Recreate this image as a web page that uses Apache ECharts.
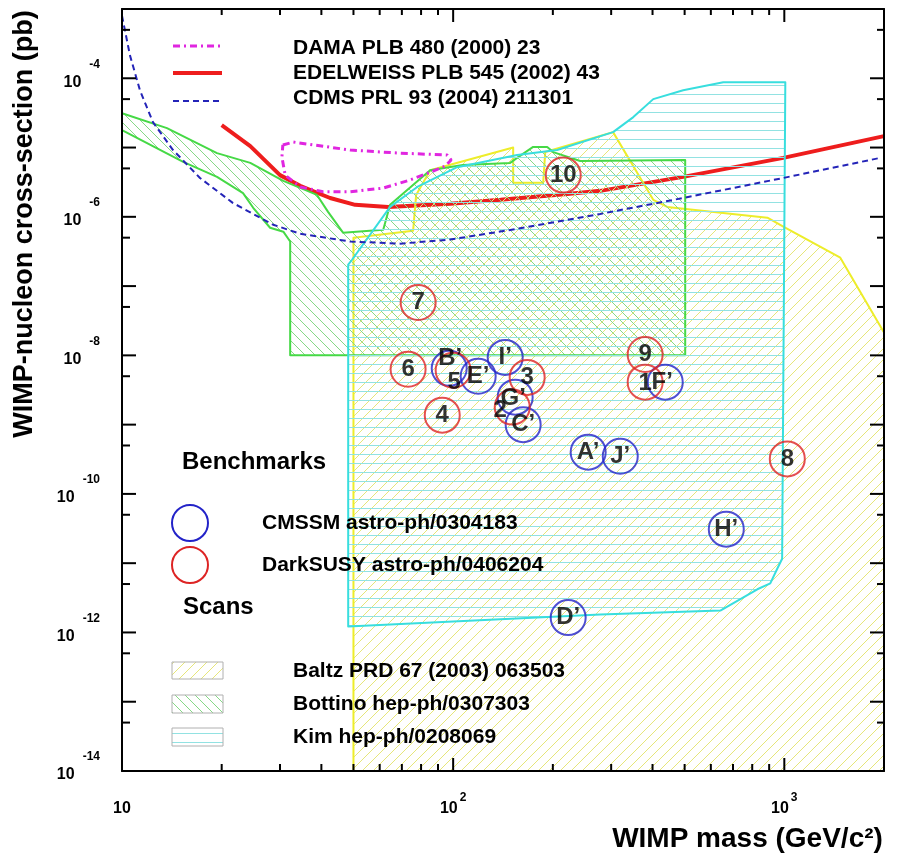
<!DOCTYPE html>
<html>
<head>
<meta charset="utf-8">
<script src="https://cdn.jsdelivr.net/npm/echarts@6/dist/echarts.min.js"></script>
<style>
  html, body { margin: 0; padding: 0; background: #fff; }
  #chart { width: 897px; height: 858px; }
</style>
</head>
<body>
<div id="chart"></div>
<script>
// ---- Experimental limits: [WIMP mass (GeV/c^2), cross-section (pb)] ----
const damaContour = [
  [30.6, 1.09e-5], [32.9, 1.2e-5], [48.9, 9.2e-6], [69.2, 8.3e-6], [95.9, 7.8e-6],
  [98.6, 6.6e-6], [94.6, 5.4e-6], [85.2, 4.4e-6], [74.1, 3.4e-6], [61.5, 2.6e-6],
  [48.9, 2.3e-6], [40.5, 2.3e-6], [34.5, 2.7e-6], [31.1, 4.0e-6], [30.4, 7.3e-6],
  [30.6, 1.09e-5]
];
const edelweissLimit = [
  [20, 2.1e-5], [24.4, 1.05e-5], [30, 4.0e-6], [34.5, 2.8e-6], [42.5, 1.87e-6],
  [50.6, 1.49e-6], [63.6, 1.39e-6], [98, 1.54e-6], [139, 1.76e-6], [221, 2.14e-6],
  [278, 2.37e-6], [495, 3.77e-6], [993, 7.1e-6], [2000, 1.46e-5]
];
const cdmsLimit = [
  [10, 8.0e-4], [10.57, 2.14e-4], [11.33, 6.7e-5], [12.4, 2.33e-5], [14.26, 9.2e-6],
  [17.2, 3.64e-6], [21.6, 1.59e-6], [28.6, 7.7e-7], [34.5, 5.7e-7], [48.8, 4.4e-7],
  [69.2, 4.1e-7], [98, 4.7e-7], [156, 6.7e-7], [278, 1.1e-6], [495, 1.87e-6],
  [993, 3.64e-6], [1950, 7.1e-6]
];

// ---- Theoretical scan regions (closed outlines) ----
const baltzScan = [
  [50, 1e-14], [50, 5.0e-7], [75.7, 6.3e-7], [77.3, 2.07e-6], [85.2, 4.7e-6],
  [151.8, 1.0e-5], [151.8, 3.1e-6], [187, 3.1e-6], [189.7, 8.6e-6], [304, 1.67e-5],
  [402, 1.76e-6], [443, 1.39e-6], [889, 9.7e-7], [993, 7.2e-7], [1476, 2.57e-7],
  [2000, 2.14e-8], [2000, 1e-14]
];
const bottinoScan = [
  [10, 3.13e-5], [13.67, 1.91e-5], [19.36, 8.3e-6], [24.4, 6.0e-6], [30.7, 3.3e-6],
  [38.8, 2.07e-6], [41.9, 1.18e-6], [46.5, 5.9e-7], [61.5, 6.5e-7], [64.5, 1.49e-6],
  [85.2, 4.7e-6], [107, 5.6e-6], [148.6, 6.0e-6], [156, 7.1e-6], [174.4, 1.02e-5],
  [192.3, 1.02e-5], [200.5, 8.6e-6], [241.9, 6.4e-6], [502, 6.6e-6], [502, 1e-8],
  [32.2, 1e-8], [32.2, 4.4e-7], [30.7, 6.1e-7], [28, 6.95e-7], [24.9, 1.35e-6],
  [23.2, 2.2e-6], [19.36, 3.77e-6], [15.3, 6.2e-6], [10, 1.79e-5]
];
const kimScan = [
  [48.2, 1.22e-12], [48.2, 2.04e-7], [49.5, 2.4e-7], [64.5, 1.39e-6], [77.9, 2.7e-6],
  [102.8, 5.2e-6], [156, 7.8e-6], [206, 9.2e-6], [304, 1.67e-5], [350, 2.75e-5],
  [402, 5.0e-5], [495, 6.7e-5], [654, 8.75e-5], [1007, 8.75e-5], [985, 1.16e-11],
  [952, 8.3e-12], [907, 5.1e-12], [829, 4.2e-12], [641, 2.07e-12], [278, 1.82e-12]
];

// ---- Benchmark models: [label, mass, cross-section] ----
const cmssmPoints = [
  ['A’', 255.7, 4.0e-10], ['B’', 97.3, 6.5e-9], ['C’', 162.7, 1.0e-9],
  ['D’', 222.5, 1.64e-12], ['E’', 119, 5.0e-9], ['F’', 437, 4.1e-9],
  ['G’', 153.9, 2.49e-9], ['H’', 668, 3.1e-11], ['I’', 143.6, 9.35e-9],
  ['J’', 319.6, 3.5e-10]
];
const darksusyPoints = [
  ['1', 380, 4.1e-9], ['2', 150.8, 1.79e-9], ['3', 167.3, 4.8e-9],
  ['4', 92.7, 1.37e-9], ['5', 100, 6.1e-9], ['6', 73.1, 6.3e-9],
  ['7', 78.4, 5.8e-8], ['8', 1021, 3.2e-10], ['9', 380, 1.03e-8],
  ['10', 215, 4.0e-6]
];

// ---- Axis ticks and labels ----
const xMajorTicks = [100, 1000];
const xMinorTicks = [20, 30, 40, 50, 60, 70, 80, 90, 200, 300, 400, 500, 600, 700, 800, 900];
const yMajorTicks = [1e-13, 1e-12, 1e-11, 1e-10, 1e-9, 1e-8, 1e-7, 1e-6, 1e-5, 1e-4];
const yMinorTicks = [5e-14, 5e-13, 5e-12, 5e-11, 5e-10, 5e-9, 5e-8, 5e-7, 5e-6, 5e-5, 5e-4];
const xLabelValues = [10, 100, 1000];
const yLabelValues = [1e-14, 1e-12, 1e-10, 1e-8, 1e-6, 1e-4];

const X_MIN = 10, X_MAX = 2000, Y_MIN = 1e-14, Y_MAX = 1e-3;
const FONT = '"Liberation Sans", Arial, Helvetica, sans-serif';

// label nudges where benchmark markers overlap
const labelNudge = { 'B’': [1, -10], '5': [1, 12], '2': [-12, 3], 'G’': [-2, 1], '1': [0, 1], 'F’': [-3, 0] };

// hatch pattern tiles
function hatch(kind, color, size) {
  const c = document.createElement('canvas');
  c.width = size; c.height = size;
  const g = c.getContext('2d');
  g.strokeStyle = color;
  g.lineWidth = 1;
  g.beginPath();
  if (kind === 'h') {
    g.moveTo(0, Math.floor(size / 2) + 0.5);
    g.lineTo(size, Math.floor(size / 2) + 0.5);
  } else {
    for (let k = -1; k <= 1; k++) {
      if (kind === '/') {
        g.moveTo(k * size - 1, size + 1);
        g.lineTo(k * size + size + 1, -1);
      } else {
        g.moveTo(k * size - 1, -1);
        g.lineTo(k * size + size + 1, size + 1);
      }
    }
  }
  g.stroke();
  return c;
}
const yellowHatch = { image: hatch('/', '#e6e67a', 11), repeat: 'repeat' };
const greenHatch = { image: hatch('\\', '#86d886', 10), repeat: 'repeat' };
const cyanHatch = { image: hatch('h', '#92e2e2', 9), repeat: 'repeat' };

function regionSeries(name, pts, fill, stroke, z) {
  return {
    type: 'custom', name, coordinateSystem: 'cartesian2d', data: pts, z, silent: true,
    renderItem(params, api) {
      if (params.dataIndex !== 0) return null;
      const points = pts.map(p => api.coord(p));
      return {
        type: 'polygon',
        shape: { points },
        style: { fill, stroke, lineWidth: 2, lineJoin: 'round' }
      };
    }
  };
}

function tickLine(x1, y1, x2, y2) {
  return { type: 'line', shape: { x1, y1, x2, y2 }, style: { stroke: '#000', lineWidth: 2 } };
}

function benchSeries(points, color) {
  return {
    type: 'scatter', data: points.map(p => ({
      value: [p[1], p[2]], name: p[0],
      label: { offset: labelNudge[p[0]] || [0, 0] }
    })),
    symbol: 'circle', symbolSize: 35, z: 20, silent: true,
    itemStyle: { color: 'rgba(0,0,0,0)', borderColor: color, borderWidth: 2 },
    label: {
      show: true, position: 'inside', formatter: '{b}',
      fontFamily: FONT, fontWeight: 'bold', fontSize: 24, color: '#000'
    }
  };
}

function expOf(v) {
  const e = Math.log10(v);
  const r = Math.round(e);
  return Math.abs(e - r) < 1e-6 ? r : null;
}

const axisLineStyle = { show: true, onZero: false, lineStyle: { color: '#000', width: 2 } };

const chart = echarts.init(document.getElementById('chart'), null, { renderer: 'canvas' });

const legendText = (text, x, y, size) => ({
  type: 'text', x, y, z: 30,
  style: { text, fill: '#000', fontFamily: FONT, fontWeight: 'bold', fontSize: size || 21, align: 'left', verticalAlign: 'middle' }
});

chart.setOption({
  animation: false,
  backgroundColor: '#fff',
  grid: { left: 122, right: 13, top: 9, bottom: 85, show: false },
  xAxis: [{
    type: 'log', logBase: 10, min: X_MIN, max: X_MAX, position: 'bottom', z: 10,
    axisLine: axisLineStyle, axisTick: { show: false }, splitLine: { show: false },
    name: 'WIMP mass (GeV/c²)', nameLocation: 'middle', nameGap: 54,
    nameTextStyle: { fontFamily: FONT, fontWeight: 'bold', fontSize: 28, color: '#000', padding: [0, 0, 0, 489] },
    axisLabel: {
      margin: 21, color: '#000', customValues: xLabelValues,
      formatter(v) {
        const r = expOf(v);
        if (r === null) return '';
        return r === 1 ? '{b|10}' : '{b|10}{e|' + r + '}';
      },
      rich: {
        b: { fontFamily: FONT, fontWeight: 'bold', fontSize: 16, lineHeight: 25, verticalAlign: 'bottom', color: '#000' },
        e: { fontFamily: FONT, fontWeight: 'bold', fontSize: 12, lineHeight: 25, verticalAlign: 'top', color: '#000', padding: [0, 0, 0, 2] }
      }
    }
  }, {
    type: 'log', logBase: 10, min: X_MIN, max: X_MAX, position: 'top', z: 10,
    axisLine: axisLineStyle, axisTick: { show: false }, splitLine: { show: false },
    axisLabel: { show: false }
  }],
  yAxis: [{
    type: 'log', logBase: 10, min: Y_MIN, max: Y_MAX, position: 'left', z: 10,
    axisLine: axisLineStyle, axisTick: { show: false }, splitLine: { show: false },
    name: 'WIMP-nucleon cross-section (pb)', nameLocation: 'middle', nameGap: 84, nameRotate: 90,
    nameTextStyle: { fontFamily: FONT, fontWeight: 'bold', fontSize: 27, color: '#000', padding: [0, 0, 0, 332] },
    axisLabel: {
      margin: 22, color: '#000', padding: [0, 0, 8, 0], customValues: yLabelValues,
      formatter(v) {
        const r = expOf(v);
        if (r === null || Math.abs(r) % 2 === 1) return '';
        return '{b|10}{e|' + r + '}';
      },
      rich: {
        b: { fontFamily: FONT, fontWeight: 'bold', fontSize: 16, lineHeight: 32, verticalAlign: 'bottom', color: '#000' },
        e: { fontFamily: FONT, fontWeight: 'bold', fontSize: 12, lineHeight: 32, verticalAlign: 'top', color: '#000', padding: [0, 0, 0, 8] }
      }
    }
  }, {
    type: 'log', logBase: 10, min: Y_MIN, max: Y_MAX, position: 'right', z: 10,
    axisLine: axisLineStyle, axisTick: { show: false }, splitLine: { show: false },
    axisLabel: { show: false }
  }],
  series: [
    // scan regions
    regionSeries('Baltz', baltzScan, yellowHatch, '#eded2a', 3),
    regionSeries('Bottino', bottinoScan, greenHatch, '#46d946', 4),
    regionSeries('Kim', kimScan, cyanHatch, '#38dede', 5),
    // limits
    {
      type: 'line', name: 'EDELWEISS', data: edelweissLimit, showSymbol: false, z: 2, silent: true,
      lineStyle: { color: '#ee1d1d', width: 4 }
    },
    {
      type: 'line', name: 'DAMA', data: damaContour, showSymbol: false, z: 7, silent: true,
      lineStyle: { color: '#e026e0', width: 3, type: [7, 4, 2, 4] }
    },
    {
      type: 'line', name: 'CDMS', data: cdmsLimit, showSymbol: false, z: 8, silent: true,
      lineStyle: { color: '#2424b8', width: 2, type: [6, 4] }
    },
    // benchmarks
    benchSeries(cmssmPoints, '#2323c8'),
    benchSeries(darksusyPoints, '#dd2424'),
    // frame ticks (major per decade, minor as listed)
    {
      type: 'custom', z: 40, silent: true, data: [[X_MIN, Y_MIN]],
      renderItem(params, api) {
        const cs = params.coordSys;
        const top = cs.y, bottom = cs.y + cs.height, left = cs.x, right = cs.x + cs.width;
        const children = [];
        xMajorTicks.forEach(v => {
          const x = api.coord([v, Y_MIN])[0];
          children.push(tickLine(x, bottom, x, bottom - 13), tickLine(x, top, x, top + 13));
        });
        xMinorTicks.forEach(v => {
          const x = api.coord([v, Y_MIN])[0];
          children.push(tickLine(x, bottom, x, bottom - 7), tickLine(x, top, x, top + 6));
        });
        yMajorTicks.forEach(v => {
          const y = api.coord([X_MIN, v])[1];
          children.push(tickLine(left, y, left + 14, y), tickLine(right, y, right - 14, y));
        });
        yMinorTicks.forEach(v => {
          const y = api.coord([X_MIN, v])[1];
          children.push(tickLine(left, y, left + 8, y), tickLine(right, y, right - 7, y));
        });
        return { type: 'group', children };
      }
    }
  ],
  graphic: [
    // limit curve key
    { type: 'line', z: 30, shape: { x1: 173, y1: 46, x2: 222, y2: 46 }, style: { stroke: '#e026e0', lineWidth: 3, lineDash: [7, 4, 2, 4] } },
    { type: 'line', z: 30, shape: { x1: 173, y1: 73, x2: 222, y2: 73 }, style: { stroke: '#ee1d1d', lineWidth: 4 } },
    { type: 'line', z: 30, shape: { x1: 173, y1: 101, x2: 222, y2: 101 }, style: { stroke: '#2424b8', lineWidth: 2, lineDash: [6, 4] } },
    legendText('DAMA PLB 480 (2000) 23', 293, 48),
    legendText('EDELWEISS PLB 545 (2002) 43', 293, 73),
    legendText('CDMS PRL 93 (2004) 211301', 293, 98),
    // benchmark key
    legendText('Benchmarks', 182, 462, 24),
    { type: 'circle', z: 30, shape: { cx: 190, cy: 523, r: 18 }, style: { fill: 'none', stroke: '#2323c8', lineWidth: 2 } },
    { type: 'circle', z: 30, shape: { cx: 190, cy: 565, r: 18 }, style: { fill: 'none', stroke: '#dd2424', lineWidth: 2 } },
    legendText('CMSSM astro-ph/0304183', 262, 523),
    legendText('DarkSUSY astro-ph/0406204', 262, 565),
    // scan key
    legendText('Scans', 183, 607, 24),
    { type: 'rect', z: 30, shape: { x: 172, y: 662, width: 51, height: 17 }, style: { fill: yellowHatch, stroke: '#b0b0b0', lineWidth: 1 } },
    { type: 'rect', z: 30, shape: { x: 172, y: 695, width: 51, height: 18 }, style: { fill: greenHatch, stroke: '#b0b0b0', lineWidth: 1 } },
    { type: 'rect', z: 30, shape: { x: 172, y: 728, width: 51, height: 18 }, style: { fill: cyanHatch, stroke: '#b0b0b0', lineWidth: 1 } },
    legendText('Baltz PRD 67 (2003) 063503', 293, 671),
    legendText('Bottino hep-ph/0307303', 293, 704),
    legendText('Kim hep-ph/0208069', 293, 737)
  ]
});
</script>
</body>
</html>
